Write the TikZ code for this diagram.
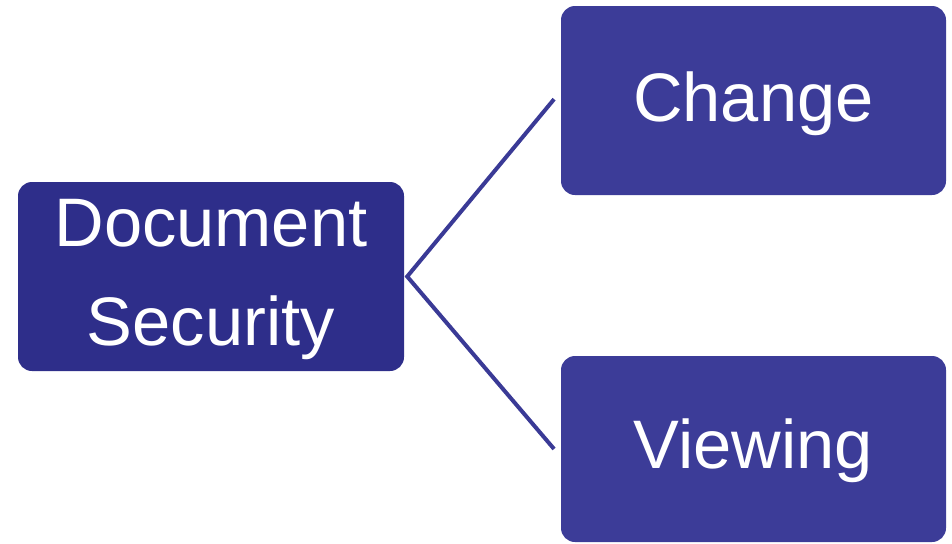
\documentclass[tikz,border=0pt]{standalone}
\usepackage{fontspec}
\setmainfont{Liberation Sans}
\definecolor{darkbox}{RGB}{46,46,138}
\definecolor{lightbox}{RGB}{60,60,152}
\definecolor{linkcol}{RGB}{58,58,150}
\begin{document}
\begin{tikzpicture}[x=0.75pt,y=-0.75pt,
  box/.style={rectangle,rounded corners=10.5pt,inner sep=0pt},
  boxtext/.style={inner sep=0pt,text=white,align=center,
    font=\fontsize{51.5}{74.5}\selectfont},
  link/.style={draw=linkcol,line width=3pt}]
\useasboundingbox (0,0) rectangle (952,543);
\node[box,fill=darkbox,minimum width=289.5pt,minimum height=141.75pt] (L) at (211,276.5) {};
\node[box,fill=lightbox,minimum width=288.75pt,minimum height=141.75pt] (T) at (753.5,100.5) {};
\node[box,fill=lightbox,minimum width=288.75pt,minimum height=139.5pt] (B) at (753.5,449) {};
\node[boxtext] (Lt) at ([yshift=-2pt]L.center) {Document\\Security};
\node[boxtext] (Tt) at ([yshift=-2.5pt]T.center) {Change};
\node[boxtext] (Bt) at ([yshift=-1.5pt]B.center) {Viewing};
\coordinate (S) at ([xshift=2.2pt]L.east);
\coordinate (TE) at ([xshift=-5pt,yshift=1pt]T.west);
\coordinate (BE) at ([xshift=-5pt]B.west);
\draw[link] (TE) -- (S) -- (BE);
\end{tikzpicture}
\end{document}
